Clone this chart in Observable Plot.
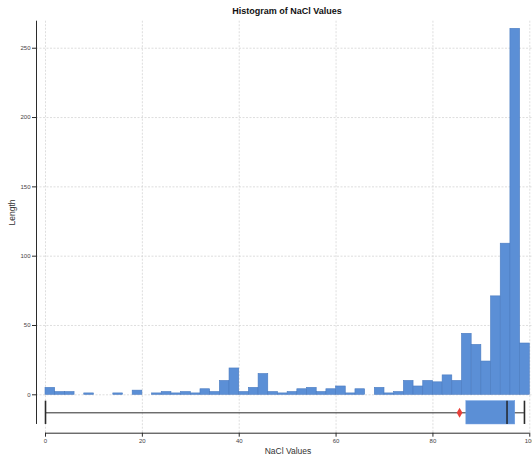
<!DOCTYPE html>
<html>
<head>
<meta charset="utf-8">
<script src="https://cdn.jsdelivr.net/npm/d3@7"></script>
<script src="https://cdn.jsdelivr.net/npm/@observablehq/plot@0.6"></script>
<style>
  html, body { margin: 0; padding: 0; background: #fff; }
  #title {
    width: 532px; height: 20px; box-sizing: border-box;
    padding-top: 7px; padding-left: 42px;
    font: bold 9px "Liberation Sans", Arial, sans-serif; line-height: 9px;
    text-align: center; color: #111;
  }
</style>
</head>
<body>
<div id="title">Histogram of NaCl Values</div>
<div id="chart"></div>
<script>
// Histogram counts per 2-unit NaCl bin, from 0–2 up to 98–100
const binWidth = 2;
const counts = [
  5, 2, 2, 0, 1, 0, 0, 1, 0, 3,
  0, 1, 2, 1, 2, 1, 4, 2, 10, 19,
  2, 5, 15, 2, 1, 2, 4, 5, 2, 4,
  6, 1, 4, 0, 5, 1, 2, 10, 6, 10,
  9, 14, 10, 44, 36, 24, 71, 109, 264, 37
];

// Summary statistics shown in the box strip
const boxMin = 0;
const boxQ1 = 86.9;
const boxMedian = 95.3;
const boxQ3 = 97.0;
const boxMax = 98.9;
const naclMean = 85.5;

// Tick values
const xTicks = [0, 20, 40, 60, 80, 100];
const yTicks = [0, 50, 100, 150, 200, 250];

// Layout: scale extents and the vertical band (in count units) holding the box strip
const xDomain = [-1.86, 100.56];
const yDomain = [-27.7, 269.5];
const boxBand = [-21.4, -4.6];
const boxMid = (boxBand[0] + boxBand[1]) / 2;

const blue = "#5b8fd6";
const ink = "#2b2b2b";
const gridStyle = { stroke: "#d6d6d6", strokeOpacity: 1, strokeWidth: 0.8, strokeDasharray: "2,1.5" };

const bins = counts
  .map((n, i) => ({ x1: i * binWidth, x2: (i + 1) * binWidth, n }))
  .filter(d => d.n > 0);

const chart = Plot.plot({
  width: 532,
  height: 437,
  marginLeft: 36,
  marginRight: 0,
  marginTop: 0.7,
  marginBottom: 24.3,
  style: { fontFamily: "'Liberation Sans', Arial, sans-serif", background: "#fff", overflow: "visible" },
  x: { domain: xDomain, label: null },
  y: { domain: yDomain, label: null },
  marks: [
    Plot.gridX(xTicks, gridStyle),
    Plot.gridY(yTicks, gridStyle),

    // histogram bars
    Plot.rectY(bins, { x1: "x1", x2: "x2", y: "n", fill: blue, stroke: "#4a7bc0", strokeWidth: 0.6 }),

    // box strip: whisker, box, caps, median, mean
    Plot.ruleY([boxMid], { x1: () => boxMin, x2: () => boxMax, stroke: ink, strokeWidth: 1 }),
    Plot.rect([0], { x1: () => boxQ1, x2: () => boxQ3, y1: () => boxBand[0], y2: () => boxBand[1], fill: blue, stroke: "#6b9be0", strokeWidth: 0.5 }),
    Plot.ruleX([boxMin, boxMax], { y1: () => boxBand[0], y2: () => boxBand[1], stroke: ink, strokeWidth: 1.6 }),
    Plot.ruleX([boxMedian], { y1: () => boxBand[0], y2: () => boxBand[1], stroke: "#1e1e1e", strokeWidth: 1.4 }),
    Plot.dot([naclMean], { x: d => d, y: () => boxMid, symbol: "diamond", r: 3, fill: "#e8403a", stroke: "none" }),

    // axes
    Plot.axisY(yTicks, { tickSize: 4, tickPadding: 2, fontSize: 6, label: null, stroke: ink, fill: "#444" }),
    Plot.axisX(xTicks, { tickSize: 4, tickPadding: 2, fontSize: 6, label: null, stroke: ink, fill: "#444" }),
    Plot.ruleY([yDomain[0]], { x1: () => xTicks[0], x2: () => xTicks[xTicks.length - 1], stroke: ink, strokeWidth: 1 }),
    Plot.ruleX([xDomain[0]], { y1: () => boxBand[0], y2: () => yDomain[1], stroke: ink, strokeWidth: 1 }),

    // axis titles
    Plot.text(["NaCl Values"], { text: d => d, frameAnchor: "bottom", dx: 3.5, dy: 20.5, fontSize: 8.5, fill: "#333" }),
    Plot.text(["Length"], { text: d => d, frameAnchor: "left", rotate: -90, dx: -24, dy: -1.7, fontSize: 8.5, fill: "#333" })
  ]
});

document.getElementById("chart").appendChild(chart);
</script>
</body>
</html>
